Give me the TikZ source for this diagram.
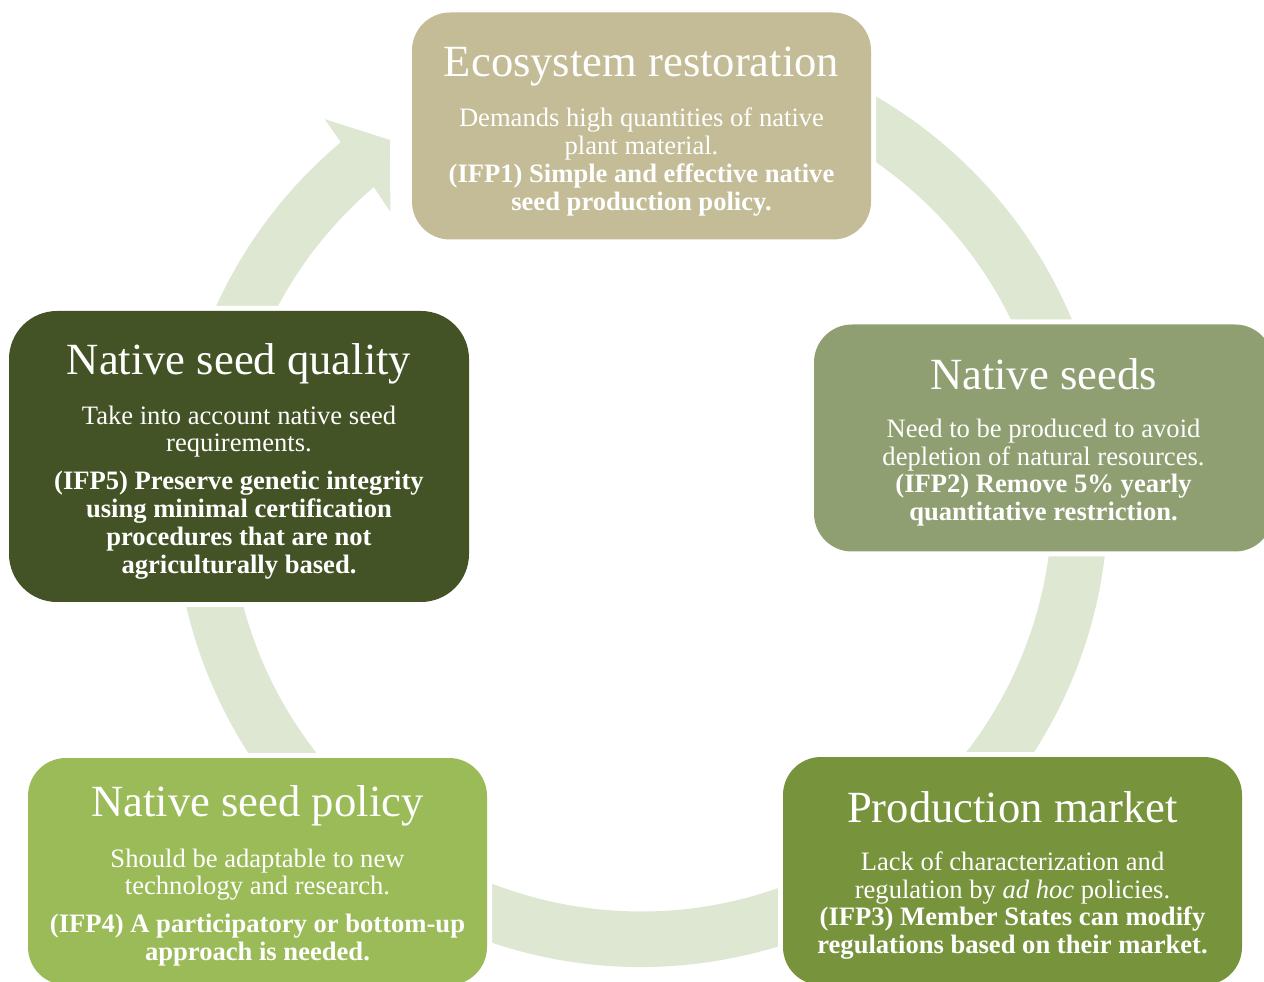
\documentclass[tikz,border=0pt]{standalone}
\usepackage{fontspec}
\setmainfont{Liberation Serif}
\usetikzlibrary{calc}
\definecolor{ecotan}{RGB}{195,188,150}
\definecolor{seedgreen}{RGB}{143,159,114}
\definecolor{marketgreen}{RGB}{119,147,60}
\definecolor{policygreen}{RGB}{155,187,89}
\definecolor{qualitygreen}{RGB}{67,83,37}
\definecolor{ringgreen}{RGB}{222,231,210}
\newcommand{\boxtitle}{\fontsize{22.3}{26}\selectfont\spaceskip=0.25em\relax}
\newcommand{\boxbody}{\fontsize{13.3}{13.9}\selectfont\spaceskip=0.25em\relax}
\newcommand{\stage}[2]{{\boxtitle\rule{0pt}{20pt}#1\par}\vspace{10pt}{\boxbody #2\par}}
\tikzset{
    box/.style = {rectangle, rounded corners=19pt, text=white, align=center, text width=220pt, inner sep=0pt, minimum width=229.5pt, minimum height=113.5pt, preaction={draw=white,line width=5pt}},
    boxeco/.style = {box, fill=ecotan},
    boxseed/.style = {box, fill=seedgreen},
    boxmarket/.style = {box, fill=marketgreen, minimum height=114pt},
    boxpolicy/.style = {box, fill=policygreen},
    boxquality/.style = {box, fill=qualitygreen, minimum width=230pt, minimum height=145.5pt, rounded corners=24pt},
    ring/.style = {fill=ringgreen},
}

\begin{document}
\begin{tikzpicture}[x=0.5pt,y=0.5pt]
\useasboundingbox (0,0) rectangle (1264,981);

% cycle arrow behind the boxes
\coordinate (ctr) at (641,481);
\fill[ring] ($(ctr)+(100:467)$) arc[start angle=100, end angle=-230, radius=467]
    -- ($(ctr)+(129.7:495)$) -- ($(ctr)+(124.9:439)$) -- ($(ctr)+(131:382)$)
    -- ($(ctr)+(130.5:411.5)$) arc[start angle=-229.5, end angle=100, radius=411.5] -- cycle;

\node[boxeco] at (641.5, 855) (eco) {\stage{Ecosystem restoration}{Demands high quantities of native\\ plant material.\\ \textbf{(IFP1) Simple and effective native}\\ \textbf{seed production policy.}}};
\node[boxseed] at (1043.5, 543) (seeds) {\stage{Native seeds}{Need to be produced to avoid\\ depletion of natural resources.\\ \textbf{(IFP2) Remove 5\% yearly}\\ \textbf{quantitative restriction.}}};
\node[boxmarket] at (1012.5, 110) (market) {\stage{Production market}{Lack of characterization and\\ regulation by \textit{ad hoc} policies.\\ \textbf{(IFP3) Member States can modify}\\ \textbf{regulations based on their market.}}};
\node[boxpolicy] at (257.5, 109.5) (policy) {\stage{Native seed policy}{Should be adaptable to new\\ technology and research.\\[5pt] \textbf{(IFP4) A participatory or bottom-up}\\ \textbf{approach is needed.}}};
\node[boxquality] at (239, 524.5) (quality) {\stage{Native seed quality}{Take into account native seed\\ requirements.\\[5pt] \textbf{(IFP5) Preserve genetic integrity}\\ \textbf{using minimal certification}\\ \textbf{procedures that are not}\\ \textbf{agriculturally based.}}};

\end{tikzpicture}
\end{document}
